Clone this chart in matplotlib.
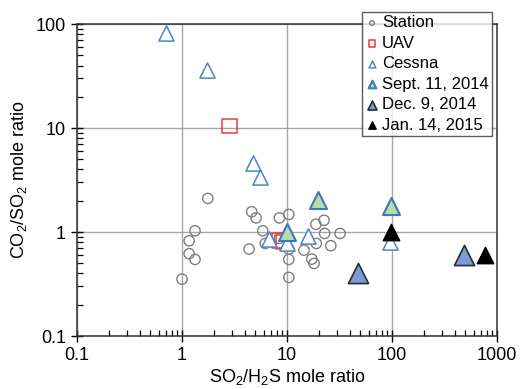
import matplotlib
matplotlib.use("Agg")
import matplotlib.pyplot as plt
from matplotlib.ticker import LogLocator, FuncFormatter, NullFormatter

plt.rcParams['font.family'] = ['Liberation Sans', 'DejaVu Sans']
plt.rcParams['mathtext.fontset'] = 'custom'
plt.rcParams['mathtext.rm'] = 'Liberation Sans'
plt.rcParams['mathtext.it'] = 'Liberation Sans'

# SO2/H2S (x) and CO2/SO2 (y) ratios
station_x = [1.76, 1.33, 1.17, 1.17, 1.33, 1.0, 4.61, 5.07, 4.35, 5.87, 6.21, 8.45,
             10.4, 8.45, 10.4, 10.4, 10.4, 14.5, 18.8, 22.5, 22.8, 19.0, 26.1, 32.0,
             17.2, 18.1]
station_y = [2.11, 1.03, 0.825, 0.62, 0.546, 0.353, 1.57, 1.37, 0.687, 1.03, 0.778, 1.37,
             1.48, 0.87, 0.687, 0.546, 0.367, 0.671, 1.19, 1.30, 0.97, 0.778, 0.74, 0.97,
             0.55, 0.50]
uav_x = [2.82, 8.5, 9.3]
uav_y = [10.5, 0.83, 0.80]
cessna_x = [0.71, 1.74, 4.71, 5.53, 6.78, 9.97, 15.7, 95.7]
cessna_y = [81.5, 36.0, 4.58, 3.4, 0.85, 0.78, 0.915, 0.807]
sep_x = [19.9, 10.0, 97.0]
sep_y = [2.03, 1.0, 1.78]
dec_x = [47.8, 488.0]
dec_y = [0.40, 0.60]
jan_x = [97.0, 769.0]
jan_y = [1.0, 0.60]

fig = plt.figure(figsize=(5.2, 3.89), dpi=100)
ax = fig.add_axes([0.148, 0.136, 0.808, 0.802])

ax.scatter(station_x, station_y, s=55, marker='o', facecolors='none',
           edgecolors='#7f7f7f', linewidths=1.0, label='Station', zorder=3)
ax.scatter(uav_x, uav_y, s=110, marker='s', facecolors='none',
           edgecolors='#ee3b3b', linewidths=1.1, label='UAV', zorder=3)
ax.scatter(cessna_x, cessna_y, s=120, marker='^', facecolors='white',
           edgecolors='#4a86c8', linewidths=1.1, label='Cessna', zorder=4)
ax.scatter(sep_x, sep_y, s=150, marker='^', facecolors='#b9dca8',
           edgecolors='#3a78c0', linewidths=1.5, label='Sept. 11, 2014', zorder=5)
ax.scatter(dec_x, dec_y, s=210, marker='^', facecolors='#7b9bd8',
           edgecolors='#2b2b2b', linewidths=1.2, label='Dec. 9, 2014', zorder=5)
ax.scatter(jan_x, jan_y, s=140, marker='^', facecolors='black',
           edgecolors='black', linewidths=1.0, label='Jan. 14, 2015', zorder=6)

ax.set_xscale('log')
ax.set_yscale('log')
ax.set_xlim(0.1, 1000)
ax.set_ylim(0.1, 100)

fmt = FuncFormatter(lambda v, p: '%g' % v)
for axis in (ax.xaxis, ax.yaxis):
    axis.set_major_locator(LogLocator(base=10, numticks=10))
    axis.set_minor_locator(LogLocator(base=10, subs=range(2, 10), numticks=10))
    axis.set_major_formatter(fmt)
    axis.set_minor_formatter(NullFormatter())

ax.grid(True, which='major', color='#a6a6a6', linewidth=1.0, zorder=0)
ax.set_axisbelow(True)
ax.tick_params(which='major', direction='inout', length=8, width=1.0,
               labelsize=13, colors='black', pad=4)
ax.tick_params(which='minor', direction='in', length=4, width=0.9)
for sp in ax.spines.values():
    sp.set_linewidth(1.1)
    sp.set_color('#333333')

ax.set_xlabel('SO$_2$/H$_2$S mole ratio', fontsize=13, labelpad=2)
ax.set_ylabel('CO$_2$/SO$_2$ mole ratio', fontsize=13, labelpad=5)

leg = ax.legend(loc='upper left', bbox_to_anchor=(362 / 520, 1 - 12 / 389),
                bbox_transform=fig.transFigure, fontsize=12, markerscale=0.45,
                frameon=True, fancybox=False, edgecolor='#333333',
                handletextpad=0.2, handlelength=0.8, borderpad=0.2,
                labelspacing=0.33, borderaxespad=0)
leg.get_frame().set_linewidth(1.0)

fig.savefig('out.png', dpi=100)
